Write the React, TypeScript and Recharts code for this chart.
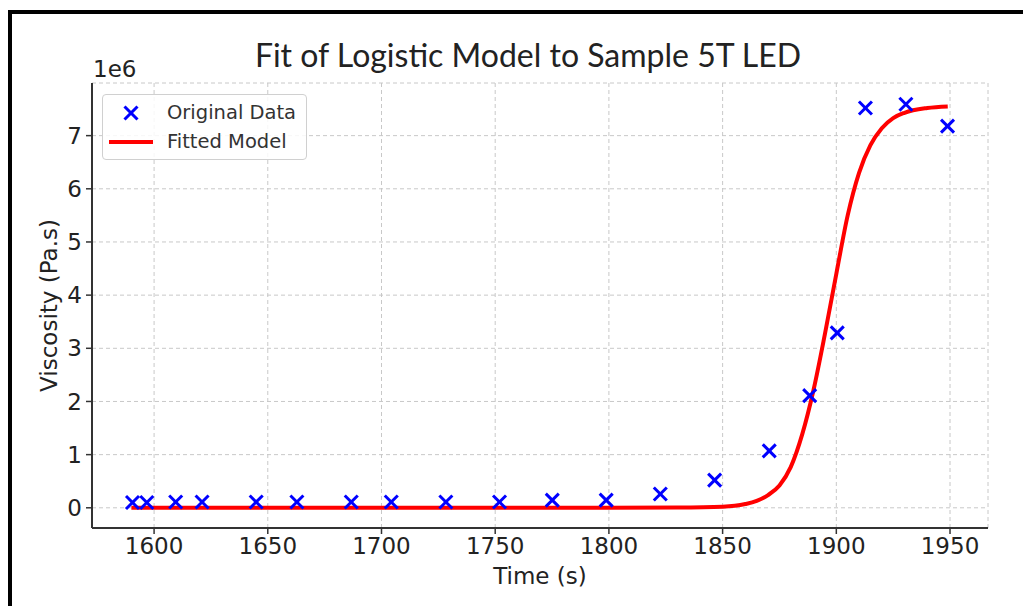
import React from "react";
import {
  ComposedChart,
  Line,
  Scatter,
  XAxis,
  YAxis,
  CartesianGrid,
  Label,
} from "recharts";

// sample times (s) and measured viscosity (Pa.s)
const sampleTimes = [
  1590.5, 1596.8, 1609.5, 1621.1, 1644.9, 1662.8, 1686.7, 1704.3, 1728.3, 1751.9,
  1775.1, 1798.8, 1822.6, 1846.5, 1870.5, 1888.3, 1900.4, 1912.8, 1930.6, 1948.9,
];
const sampleViscosity = [
  0.10e6, 0.10e6, 0.11e6, 0.11e6, 0.11e6, 0.11e6, 0.11e6, 0.11e6, 0.11e6, 0.11e6,
  0.145e6, 0.145e6, 0.26e6, 0.52e6, 1.07e6, 2.11e6, 3.29e6, 7.52e6, 7.59e6, 7.18e6,
];

// fitted logistic curve
const fitTimes = [
  1590, 1700, 1800, 1830, 1850, 1860, 1865, 1870, 1875, 1880, 1885,
  1890, 1895, 1900, 1905, 1910, 1915, 1920, 1925, 1930, 1940, 1949,
];
const fitViscosity = [
  0, 0, 0, 0.005e6, 0.02e6, 0.07e6, 0.13e6, 0.24e6, 0.42e6, 0.77e6, 1.38e6,
  2.22e6, 3.27e6, 4.4e6, 5.5e6, 6.3e6, 6.82e6, 7.14e6, 7.33e6, 7.43e6, 7.52e6, 7.55e6,
];

const xTicks = [1600, 1650, 1700, 1750, 1800, 1850, 1900, 1950];
const yTicks = [0, 1e6, 2e6, 3e6, 4e6, 5e6, 6e6, 7e6];

const samples = sampleTimes.map((t, i) => ({ t, v: sampleViscosity[i] }));
const fitted = fitTimes.map((t, i) => ({ t, v: fitViscosity[i] }));

const FONT = "'DejaVu Sans', sans-serif";
const AXIS = "#333";
const TICK_STYLE = { fontSize: 23, fill: "#222", fontFamily: FONT };

function XMark(props: any) {
  const { cx, cy } = props;
  if (cx == null || cy == null) return null;
  const s = 6.5;
  return (
    <g stroke="#0000ff" strokeWidth={3} strokeLinecap="butt">
      <line x1={cx - s} y1={cy - s} x2={cx + s} y2={cy + s} />
      <line x1={cx - s} y1={cy + s} x2={cx + s} y2={cy - s} />
    </g>
  );
}

function LegendBox() {
  return (
    <div
      style={{
        position: "absolute",
        left: 102,
        top: 94,
        width: 205,
        height: 66,
        border: "1px solid #d0d0d0",
        borderRadius: 4,
        background: "rgba(255,255,255,0.85)",
        fontFamily: FONT,
        fontSize: 19.5,
        color: "#333",
        boxSizing: "border-box",
      }}
    >
      <svg width={60} height={64} style={{ position: "absolute", left: 0, top: 0 }}>
        <XMark cx={28} cy={18} />
        <line x1={6} y1={47} x2={50} y2={47} stroke="#ff0000" strokeWidth={4} />
      </svg>
      <div style={{ position: "absolute", left: 64, top: 4, lineHeight: "28px", whiteSpace: "nowrap" }}>
        Original Data
      </div>
      <div style={{ position: "absolute", left: 64, top: 33, lineHeight: "28px", whiteSpace: "nowrap" }}>
        Fitted Model
      </div>
    </div>
  );
}

export default function App() {
  return (
    <div style={{ position: "absolute", left: 0, top: 0, width: 1023, height: 606, background: "#fff", overflow: "hidden" }}>
      <div
        style={{
          position: "absolute",
          left: 8,
          top: 10,
          width: 1100,
          height: 700,
          borderTop: "4px solid #000",
          borderLeft: "4px solid #000",
        }}
      />
      <div
        style={{
          position: "absolute",
          left: 0,
          top: 35,
          width: 1056,
          textAlign: "center",
          fontFamily: "Lato, 'Open Sans', sans-serif",
          fontSize: 32,
          color: "#222",
        }}
      >
        Fit of Logistic Model to Sample 5T LED
      </div>
      <div style={{ position: "absolute", left: 93, top: 56, fontFamily: FONT, fontSize: 23, color: "#222", lineHeight: "26px" }}>
        1e6
      </div>
      <div style={{ position: "absolute", left: 0, top: 0 }}>
        <ComposedChart
          width={1023}
          height={606}
          margin={{ top: 83, right: 35, left: 32, bottom: 28 }}
        >
          <CartesianGrid stroke="#c8c8c8" strokeDasharray="4 3" strokeWidth={1} />
          <XAxis
            type="number"
            dataKey="t"
            domain={[1572.7, 1966.7]}
            allowDataOverflow
            ticks={xTicks}
            tick={TICK_STYLE}
            tickSize={6}
            tickMargin={4}
            height={50}
            axisLine={{ stroke: AXIS, strokeWidth: 2 }}
            tickLine={{ stroke: AXIS, strokeWidth: 1.5 }}
          >
            <Label
              content={({ viewBox }: any) => (
                <text
                  x={viewBox.x + viewBox.width / 2}
                  y={viewBox.y + 56}
                  textAnchor="middle"
                  style={{ fontSize: 23, fontFamily: FONT, fill: "#222" }}
                >
                  Time (s)
                </text>
              )}
            />
          </XAxis>
          <YAxis
            type="number"
            dataKey="v"
            domain={[-380000, 7990000]}
            allowDataOverflow
            ticks={yTicks}
            tickFormatter={(v: number) => String(Math.round(v / 1e6))}
            tick={TICK_STYLE}
            tickSize={6}
            tickMargin={4}
            width={60}
            axisLine={{ stroke: AXIS, strokeWidth: 2 }}
            tickLine={{ stroke: AXIS, strokeWidth: 1.5 }}
          >
            <Label
              content={({ viewBox }: any) => {
                const cx = 49;
                const cy = viewBox.y + viewBox.height / 2;
                return (
                  <text
                    x={cx}
                    y={cy}
                    transform={`rotate(-90 ${cx} ${cy})`}
                    textAnchor="middle"
                    dominantBaseline="central"
                    style={{ fontSize: 23, fontFamily: FONT, fill: "#222" }}
                  >
                    Viscosity (Pa.s)
                  </text>
                );
              }}
            />
          </YAxis>
          <Line
            data={fitted}
            dataKey="v"
            name="Fitted Model"
            type="monotone"
            stroke="#ff0000"
            strokeWidth={4}
            dot={false}
            activeDot={false}
            isAnimationActive={false}
          />
          <Scatter
            data={samples}
            dataKey="v"
            name="Original Data"
            shape={<XMark />}
            isAnimationActive={false}
          />
        </ComposedChart>
      </div>
      <LegendBox />
    </div>
  );
}
